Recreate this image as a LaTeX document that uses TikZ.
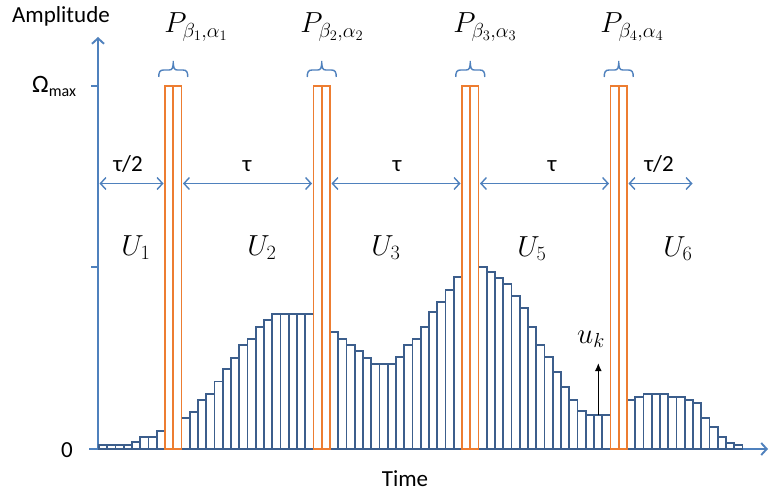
\RequirePackage{fix-cm}
\documentclass[tikz,border=0pt]{standalone}
\usepackage{fontspec}
\newfontfamily\calib{Carlito}
\usetikzlibrary{arrows.meta}
\definecolor{axisblue}{RGB}{79,129,189}
\definecolor{barblue}{RGB}{60,94,140}
\definecolor{pulseor}{RGB}{237,125,49}
\begin{document}
\begin{tikzpicture}[x=1pt,y=-1pt,
 axisline/.style={draw=axisblue, line width=1.9pt},
 barbox/.style={draw=barblue, line width=1.7pt},
 pulsebox/.style={draw=pulseor, line width=1.9pt},
 spanarrow/.style={draw=axisblue, line width=1.4pt, {Straight Barb[length=5.5pt,width=12pt]}-{Straight Barb[length=5.5pt,width=12pt]}, shorten <=1.5pt, shorten >=1.5pt},
 sanslabel/.style={font=\calib\fontsize{23}{26}\selectfont, inner sep=0pt},
 mathlabel/.style={font=\fontsize{29}{31}\selectfont, inner sep=0pt},
 bracepath/.style={draw=axisblue, line width=1.4pt}]
\useasboundingbox (0,0) rectangle (769,492);
\fill[white] (0,0) rectangle (769,492);
% axes
\coordinate (origin) at (98,449);
\coordinate (ytop) at (98,37);
\coordinate (xleft) at (89,449);
\coordinate (xend) at (768,449);
\draw[axisline, -{Straight Barb[length=5.5pt,width=12pt]}] (xleft) -- (xend);
\draw[axisline, -{Straight Barb[length=5.5pt,width=12pt]}] (origin) -- (ytop);
\draw[axisline] (91,86) -- (98,86);
\draw[axisline] (91,267) -- (98,267);
% bars
\foreach \i/\t in {0/445.3,1/445.3,2/445.3,3/445.3,4/442.3,5/436.7,6/436.7,7/430.7,
 10/418.3,11/412.3,12/400,13/394,14/381.5,15/369.3,16/358.3,17/345,18/338.7,19/326.7,20/320.3,
 21/314.3,22/314.3,23/314.3,24/314.3,25/314.3,
 28/332.3,29/338.7,30/344.7,31/351,32/358.3,33/363.7,34/363.7,35/363.7,36/357.3,37/345,38/338.7,
 39/326.7,40/311.7,41/302,42/289.7,43/277.3,
 46/267.3,47/271.7,48/277.7,49/283.7,50/296,51/308.3,52/326.7,53/345,54/357.3,55/372.3,56/387.3,
 57/400,58/410.7,59/415,60/415,61/415,
 64/400,65/397.3,66/394,67/394,68/394,69/396.7,70/396.7,71/400,72/403.3,73/418.3,74/427.3,
 75/436.7,76/442.7,77/445.3}
 {\draw[barbox] ({99+8.25*\i},449) rectangle ({99+8.25*(\i+1)},\t);}
% pulses, braces and edge coordinates
\foreach \k/\i in {1/8,2/26,3/44,4/62}{
 \pgfmathsetmacro{\l}{99+8.25*\i}
 \pgfmathsetmacro{\m}{\l+8.25}
 \pgfmathsetmacro{\r}{\l+16.5}
 \draw[pulsebox] (\l,86) rectangle (\m,449);
 \draw[pulsebox] (\m,86) rectangle (\r,449);
 \coordinate (pL\k) at (\l,183.5);
 \coordinate (pR\k) at (\r,183.5);
 \pgfmathsetmacro{\bl}{\m-14.5}
 \pgfmathsetmacro{\br}{\m+14.5}
 \draw[bracepath] (\bl,77) .. controls (\bl,72) and (\bl+1,70) .. (\bl+5,70) -- (\m-4,70)
   .. controls (\m-1,70) and (\m,68) .. (\m,61)
   .. controls (\m,68) and (\m+1,70) .. (\m+4,70) -- (\br-5,70)
   .. controls (\br-1,70) and (\br,72) .. (\br,77);
}
\coordinate (yax) at (98,183.5);
\coordinate (tend) at (694,183.5);
% span arrows
\draw[spanarrow] (yax) -- (pL1);
\draw[spanarrow] (pR1) -- (pL2);
\draw[spanarrow] (pR2) -- (pL3);
\draw[spanarrow] (pR3) -- (pL4);
\draw[spanarrow] (pR4) -- (tend);
\node[sanslabel, anchor=base] (t1) at (128,172) {τ/2};
\node[sanslabel, anchor=base] (t2) at (247,172) {τ};
\node[sanslabel, anchor=base] (t3) at (397,172) {τ};
\node[sanslabel, anchor=base] (t4) at (552,172) {τ};
\node[sanslabel, anchor=base] (t5) at (659,172) {τ/2};
% pulse labels
\node[mathlabel, anchor=base] (P1) at (196,33) {$P_{\beta_1,\alpha_1}$};
\node[mathlabel, anchor=base] (P2) at (332,33) {$P_{\beta_2,\alpha_2}$};
\node[mathlabel, anchor=base] (P3) at (485,33) {$P_{\beta_3,\alpha_3}$};
\node[mathlabel, anchor=base] (P4) at (632,33) {$P_{\beta_4,\alpha_4}$};
% U labels
\node[mathlabel, anchor=base] (U1) at (136,255) {$U_1$};
\node[mathlabel, anchor=base] (U2) at (262,255) {$U_2$};
\node[mathlabel, anchor=base] (U3) at (386,255) {$U_3$};
\node[mathlabel, anchor=base] (U5) at (532,256) {$U_5$};
\node[mathlabel, anchor=base] (U6) at (678,256) {$U_6$};
% u_k
\node[mathlabel, anchor=base] (uk) at (591,343) {$u_k$};
\coordinate (ukbase) at (598.3,415);
\coordinate (uktip) at (598.3,363);
\draw[line width=1.5pt, -{Latex[length=8pt,width=7pt]}] (ukbase) -- (uktip);
% axis labels
\node[sanslabel, anchor=base] (amp) at (61,23) {Amplitude};
\node[sanslabel, anchor=base west] (omax) at (32,93) {{\fontsize{25}{28}\selectfont Ω}\raisebox{-0.35ex}{\fontsize{16}{18}\selectfont max}};
\node[sanslabel, anchor=base] (zero) at (67,457) {0};
\node[sanslabel, anchor=base] (time) at (405,486) {Time};
\end{tikzpicture}
\end{document}
